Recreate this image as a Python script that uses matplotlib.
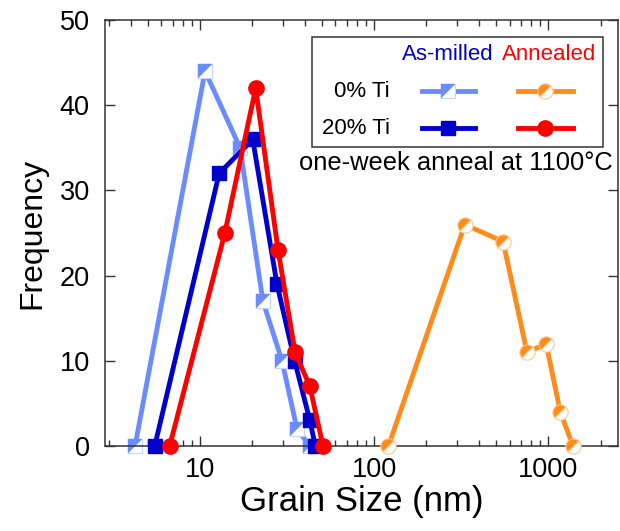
import matplotlib
matplotlib.use('Agg')
import matplotlib.pyplot as plt
from matplotlib.markers import MarkerStyle
from matplotlib.path import Path
from matplotlib.patches import Rectangle
from matplotlib.transforms import Affine2D
from matplotlib.ticker import FixedLocator, FixedFormatter, LogLocator, NullFormatter, NullLocator

plt.rcParams['font.family'] = ['Liberation Sans', 'DejaVu Sans']

# grain size (nm) vs frequency
milled0_size = [4.24, 10.7, 17.0, 23.0, 29.6, 36.1, 42.8]
milled0_freq = [0, 44, 35, 17, 10, 2, 0]
milled20_size = [5.5, 12.9, 20.1, 27.7, 35.0, 42.8, 46.0]
milled20_freq = [0, 32, 36, 19, 10, 3, 0]
ann20_size = [6.7, 13.9, 20.9, 28.1, 35.2, 42.8, 50.9]
ann20_freq = [0, 25, 42, 23, 11, 7, 0]
ann0_size = [121, 332, 551, 756, 974, 1174, 1390]
ann0_freq = [0, 26, 24, 11, 12, 4, 0]

x_ticks = [10, 100, 1000]
x_ticklabels = ['10', '100', '1000']
y_ticks = [0, 10, 20, 30, 40, 50]

LIGHT = '#6b8cff'
BLUE = '#0000cc'
RED = '#ff0000'
ORANGE = '#ff8c1a'

# upper-left half of a square (diagonal split)
corner = Path([(-1, -1), (-1, 1), (1, 1), (-1, -1)],
              [Path.MOVETO, Path.LINETO, Path.LINETO, Path.CLOSEPOLY])
half_circle = MarkerStyle('o', fillstyle='left', transform=Affine2D().rotate_deg(-45))

fig = plt.figure(figsize=(6.2, 5.31), dpi=100)
ax = fig.add_axes([0.1694, 0.16, 0.8274, 0.8023])

LW = 3.5


def half_square(ax, x, y, color, ms, tr=None, z=3):
    kw = {} if tr is None else {'transform': tr}
    ax.plot(x, y, ls='none', marker='s', ms=ms, mfc='white', mec='#c8d4ff', mew=0.8,
            clip_on=False, zorder=z, **kw)
    ax.plot(x, y, ls='none', marker=corner, ms=ms, mfc=color, mec=color, mew=0.3,
            clip_on=False, zorder=z, **kw)


def half_round(ax, x, y, color, ms, tr=None, z=3):
    kw = {} if tr is None else {'transform': tr}
    ax.plot(x, y, ls='none', marker=half_circle, ms=ms, mfc=color, markerfacecoloralt='white',
            mec='#ffc890', mew=0.8, clip_on=False, zorder=z, **kw)


# 0% Ti as-milled
ax.plot(milled0_size, milled0_freq, color=LIGHT, lw=LW, clip_on=False, zorder=2)
half_square(ax, milled0_size, milled0_freq, LIGHT, 10, z=2.5)
# 20% Ti as-milled
ax.plot(milled20_size, milled20_freq, color=BLUE, lw=LW, marker='s', ms=9.5,
        mfc=BLUE, mec=BLUE, clip_on=False, zorder=3)
# 20% Ti annealed
ax.plot(ann20_size, ann20_freq, color=RED, lw=LW, marker='o', ms=11,
        mfc=RED, mec=RED, clip_on=False, zorder=4)
# 0% Ti annealed
ax.plot(ann0_size, ann0_freq, color=ORANGE, lw=LW, clip_on=False, zorder=3)
half_round(ax, ann0_size, ann0_freq, ORANGE, 11)

ax.set_xscale('log')
ax.set_xlim(2.85, 2520)
ax.set_ylim(0, 50)
ax.xaxis.set_major_locator(FixedLocator(x_ticks))
ax.xaxis.set_major_formatter(FixedFormatter(x_ticklabels))
ax.xaxis.set_minor_locator(LogLocator(base=10, subs=range(2, 10)))
ax.xaxis.set_minor_formatter(NullFormatter())
ax.set_yticks(y_ticks)
ax.yaxis.set_minor_locator(NullLocator())

for s in ax.spines.values():
    s.set_color('#333333')
    s.set_linewidth(1.1)
ax.tick_params(which='both', direction='in', top=True, right=True, color='#333333', width=1)
ax.tick_params(which='major', length=7, labelsize=19.5)
ax.tick_params(which='minor', length=4)
ax.tick_params(axis='y', pad=11)
ax.tick_params(axis='x', pad=8)

ax.set_xlabel('Grain Size (nm)', fontsize=25, labelpad=1)
ax.set_ylabel('Frequency', fontsize=23, labelpad=9)

# legend drawn by hand
T = ax.transAxes
ax.add_patch(Rectangle((0.4035, 0.702), 0.5673, 0.258, transform=T, fill=False,
                       ec='#333333', lw=1.1, clip_on=False, zorder=5))
ax.text(0.6686, 0.920, 'As-milled', color=BLUE, fontsize=16, ha='center', va='center', transform=T)
ax.text(0.8655, 0.920, 'Annealed', color=RED, fontsize=16, ha='center', va='center', transform=T)
ax.text(0.5556, 0.8333, '0% Ti', fontsize=16, ha='right', va='center', transform=T)
ax.text(0.5556, 0.7465, '20% Ti', fontsize=16, ha='right', va='center', transform=T)

ax.plot([0.618, 0.721], [0.8333, 0.8333], color=LIGHT, lw=LW, transform=T, clip_on=False, zorder=5)
half_square(ax, [0.6686], [0.8333], LIGHT, 10, tr=T, z=6)
ax.plot([0.805, 0.912], [0.8333, 0.8333], color=ORANGE, lw=LW, transform=T, clip_on=False, zorder=5)
half_round(ax, [0.8577], [0.8333], ORANGE, 11, tr=T, z=6)
ax.plot([0.618, 0.721], [0.7465, 0.7465], color=BLUE, lw=LW, transform=T, clip_on=False, zorder=5)
ax.plot([0.6686], [0.7465], ls='none', color=BLUE, marker='s', ms=9.5, transform=T, clip_on=False, zorder=6)
ax.plot([0.805, 0.912], [0.7465, 0.7465], color=RED, lw=LW, transform=T, clip_on=False, zorder=5)
ax.plot([0.8577], [0.7465], ls='none', color=RED, marker='o', ms=11, transform=T, clip_on=False, zorder=6)

ax.text(0.99, 0.6643, 'one-week anneal at 1100°C', fontsize=18.4, ha='right', va='center', transform=T)

fig.savefig('out.png', dpi=100)
